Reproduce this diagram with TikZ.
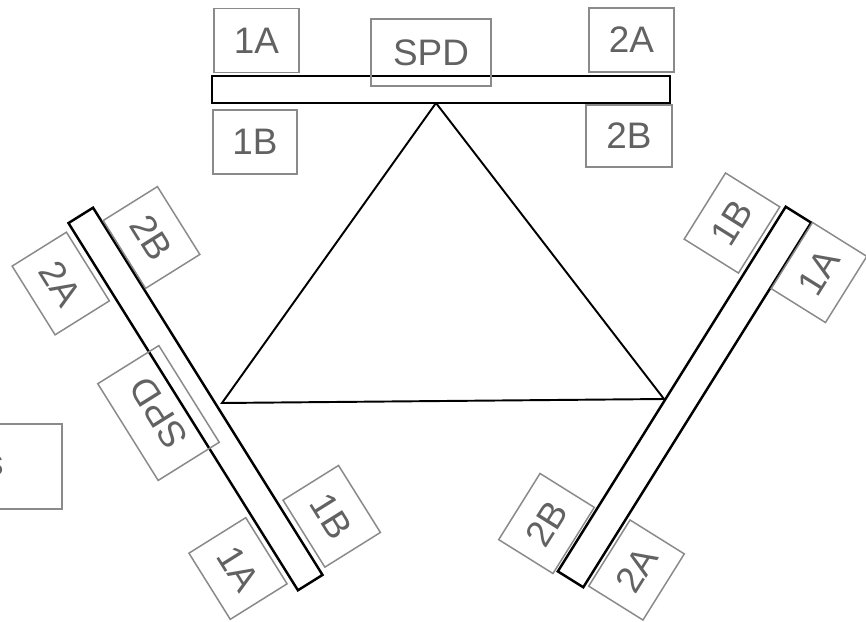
\documentclass[tikz,border=0pt]{standalone}
\usepackage{fontspec}
\setmainfont{Liberation Sans}
\usepackage{xcolor}
\usepackage{tikz}
\usetikzlibrary{positioning}
\definecolor{slotgrey}{HTML}{8A8A8A}
\definecolor{labelgrey}{HTML}{626262}
\tikzset{
  rail/.style={draw=black, line width=1.4pt, fill=white, rectangle,
               inner sep=0pt, outer sep=0pt},
  slot/.style={draw=slotgrey, line width=0.85pt, rectangle, inner sep=0pt,
               outer sep=0pt, text=labelgrey,
               font=\fontsize{21}{25}\selectfont,
               minimum width=#1*0.02cm, minimum height=1.28cm},
  slot/.default=82,
  tri/.style={draw=black, line width=1.1pt, line join=miter},
}

\begin{document}
\begin{tikzpicture}[x=0.02cm, y=-0.02cm]
\useasboundingbox (0,0) rectangle (866,622);
\clip (0,0) rectangle (866,622);

% ---------------- the triangle -------------------------------------------
\coordinate (ttop) at (436,103);
\coordinate (tleft) at (222,403);
\coordinate (tright) at (664,399);
\draw[tri] (ttop) -- (tleft) -- (tright) -- cycle;

% ---------------- the three rails ----------------------------------------
\node[rail, minimum width=458*0.02cm, minimum height=27*0.02cm]
  (railtop) at (441,89.5) {};
\node[rail, minimum width=433*0.02cm, minimum height=29*0.02cm, rotate=-58]
  (railleft) at (195.5,399) {};
\node[rail, minimum width=430*0.02cm, minimum height=30*0.02cm, rotate=58]
  (railright) at (684.5,397) {};

% ---------------- top rail slots -----------------------------------------
\node[slot=85] (t1a) at (256.5,40.5) {1A};
\node[slot=84] (t1b) at (255,142) {1B};
\node[slot=120, minimum height=1.34cm] (tspd) at (431,52.5) {SPD};
\node[slot=85] (t2a) at (631.5,40) {2A};
\node[slot=86, minimum height=1.24cm] (t2b) at (629,136) {2B};

% ---------------- left rail slots ----------------------------------------
\node[slot=81, rotate=-58] (l2a) at (60.75,283.5) {2A};
\node[slot=80, rotate=-58] (l2b) at (151.5,237.5) {2B};
\node[slot=114, minimum height=1.44cm, rotate=122] (lspd) at (158.5,413) {SPD};
\node[slot=78, minimum height=1.34cm, rotate=-58] (l1a) at (238,568.5) {1A};
\node[slot=79, minimum height=1.31cm, rotate=-58] (l1b) at (331.7,516.3) {1B};

% ---------------- right rail slots ---------------------------------------
\node[slot=78, rotate=58] (r1b) at (732,223) {1B};
\node[slot=78, rotate=58] (r1a) at (819,272.5) {1A};
\node[slot=78, rotate=58] (r2b) at (546.5,523.5) {2B};
\node[slot=78, rotate=58] (r2a) at (636.5,570) {2A};

% ---------------- cut-off box on the left --------------------------------
\node[slot=150, minimum height=1.7cm] (side) at (-13,466.5) {};
\node[text=labelgrey, font=\fontsize{21}{25}\selectfont, inner sep=0pt,
      anchor=base east] (sidetxt) at (4,475) {s};
\end{tikzpicture}
\end{document}
